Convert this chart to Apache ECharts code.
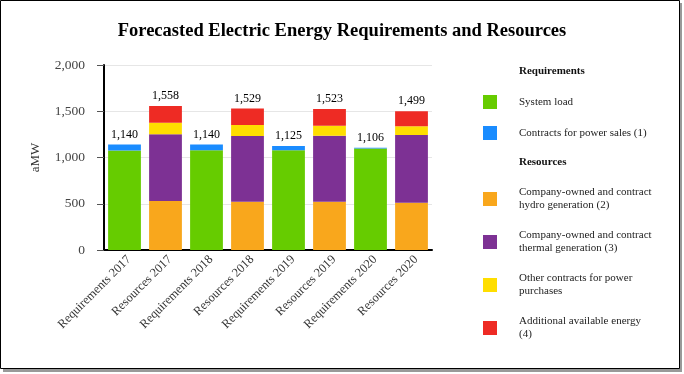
<!DOCTYPE html>
<html><head><meta charset="utf-8">
<script src="https://cdn.jsdelivr.net/npm/echarts@6/dist/echarts.min.js"></script>
<style>html,body{margin:0;padding:0;background:#fff}#c{width:684px;height:374px}</style>
</head><body><div id="c"></div>
<script>
const categories = ['Requirements 2017','Resources 2017','Requirements 2018','Resources 2018','Requirements 2019','Resources 2019','Requirements 2020','Resources 2020'];
const systemLoad   = [1075, null, 1078, null, 1078, null, 1096, null];
const salesContr   = [65,   null, 62,   null, 47,   null, 10,   null];
const hydro        = [null, 530, null, 522, null, 522, null, 512];
const thermal      = [null, 721, null, 710, null, 714, null, 731];
const otherContr   = [null, 125, null, 119, null, 108, null, 94];
const additional   = [null, 182, null, 178, null, 179, null, 162];
const totals       = [1140, 1558, 1140, 1529, 1125, 1523, 1106, 1499];
const yTicks = [0, 500, 1000, 1500, 2000];

const serif = 'Liberation Serif';
const fmt = v => String(v).replace(/\B(?=(\d{3})+(?!\d))/g, ',');
const names = ['System load','Contracts for power sales (1)','Company-owned and contract hydro generation (2)','Company-owned and contract thermal generation (3)','Other contracts for power purchases','Additional available energy (4)'];
const wrapped = {
  'Company-owned and contract hydro generation (2)': 'Company-owned and contract\nhydro generation (2)',
  'Company-owned and contract thermal generation (3)': 'Company-owned and contract\nthermal generation (3)',
  'Other contracts for power purchases': 'Other contracts for power\npurchases',
  'Additional available energy (4)': 'Additional available energy\n(4)'
};
const colors = ['#66cc00','#1a8cff','#f9a71c','#7d3194','#ffde00','#ee2b24'];
const datasets = [systemLoad, salesContr, hydro, thermal, otherContr, additional];
const legendCenters = [102, 133, 199, 242, 285, 328];

const totalLabel = {
  show: true, position: 'top', distance: 4, color: '#000',
  fontFamily: serif, fontSize: 12,
  formatter: p => fmt(totals[p.dataIndex])
};

const series = names.map((n, i) => ({
  name: n, type: 'bar', stack: 'all', barCategoryGap: '20%',
  itemStyle: { color: colors[i] },
  data: datasets[i],
  label: (i === 1 || i === 5) ? totalLabel : { show: false },
  emphasis: { disabled: true }
}));

const legends = names.map((n, i) => ({
  data: [n], left: 483, top: legendCenters[i] - (wrapped[n] ? 13 : 7), orient: 'vertical',
  padding: 0,
  itemWidth: 14, itemHeight: 14, itemGap: 0,
  icon: 'rect',
  formatter: name => wrapped[name] || name,
  textStyle: { fontFamily: serif, fontSize: 11, color: '#222', padding: [0,0,0,17], lineHeight: 13 },
  selectedMode: false
}));

const chart = echarts.init(document.getElementById('c'));
chart.setOption({
  animation: false,
  title: {
    text: 'Forecasted Electric Energy Requirements and Resources',
    left: 'center', top: 17,
    textStyle: { fontFamily: serif, fontSize: 18.5, fontWeight: 'bold', color: '#000' }
  },
  grid: { left: 104, right: 252, top: 65, bottom: 124 },
  legend: legends,
  xAxis: {
    type: 'category', data: categories,
    axisLine: { lineStyle: { color: '#000', width: 2 } },
    axisTick: { show: false },
    axisLabel: { rotate: 45, interval: 0, fontFamily: serif, fontSize: 12.5, color: '#333', margin: 3, verticalAlign: 'top' }
  },
  yAxis: {
    type: 'value', min: 0, max: 2000, interval: 500,
    name: 'aMW', nameLocation: 'middle', nameGap: 62, nameRotate: 90,
    nameTextStyle: { fontFamily: serif, fontSize: 13, color: '#333' },
    axisLine: { show: true, lineStyle: { color: '#000', width: 2 } },
    axisTick: { show: true, length: 7, lineStyle: { color: '#555' } },
    axisLabel: { fontFamily: serif, fontSize: 13.5, color: '#444', margin: 19, formatter: v => yTicks.includes(v) ? fmt(v) : '' },
    splitLine: { lineStyle: { color: '#e6e6e6' } }
  },
  graphic: [
    { type: 'rect', shape: { x: 3, y: 3, width: 679, height: 369 }, style: { fill: '#999' }, z: -2 },
    { type: 'rect', shape: { x: 0.5, y: 0.5, width: 679, height: 368 }, style: { fill: '#fff', stroke: '#000', lineWidth: 1 }, z: -1 },
    { type: 'text', left: 519, top: 66, style: { text: 'Requirements', fontFamily: serif, fontSize: 11, fontWeight: 'bold', fill: '#111' } },
    { type: 'text', left: 519, top: 157, style: { text: 'Resources', fontFamily: serif, fontSize: 11, fontWeight: 'bold', fill: '#111' } }
  ],
  series
});
</script></body></html>
